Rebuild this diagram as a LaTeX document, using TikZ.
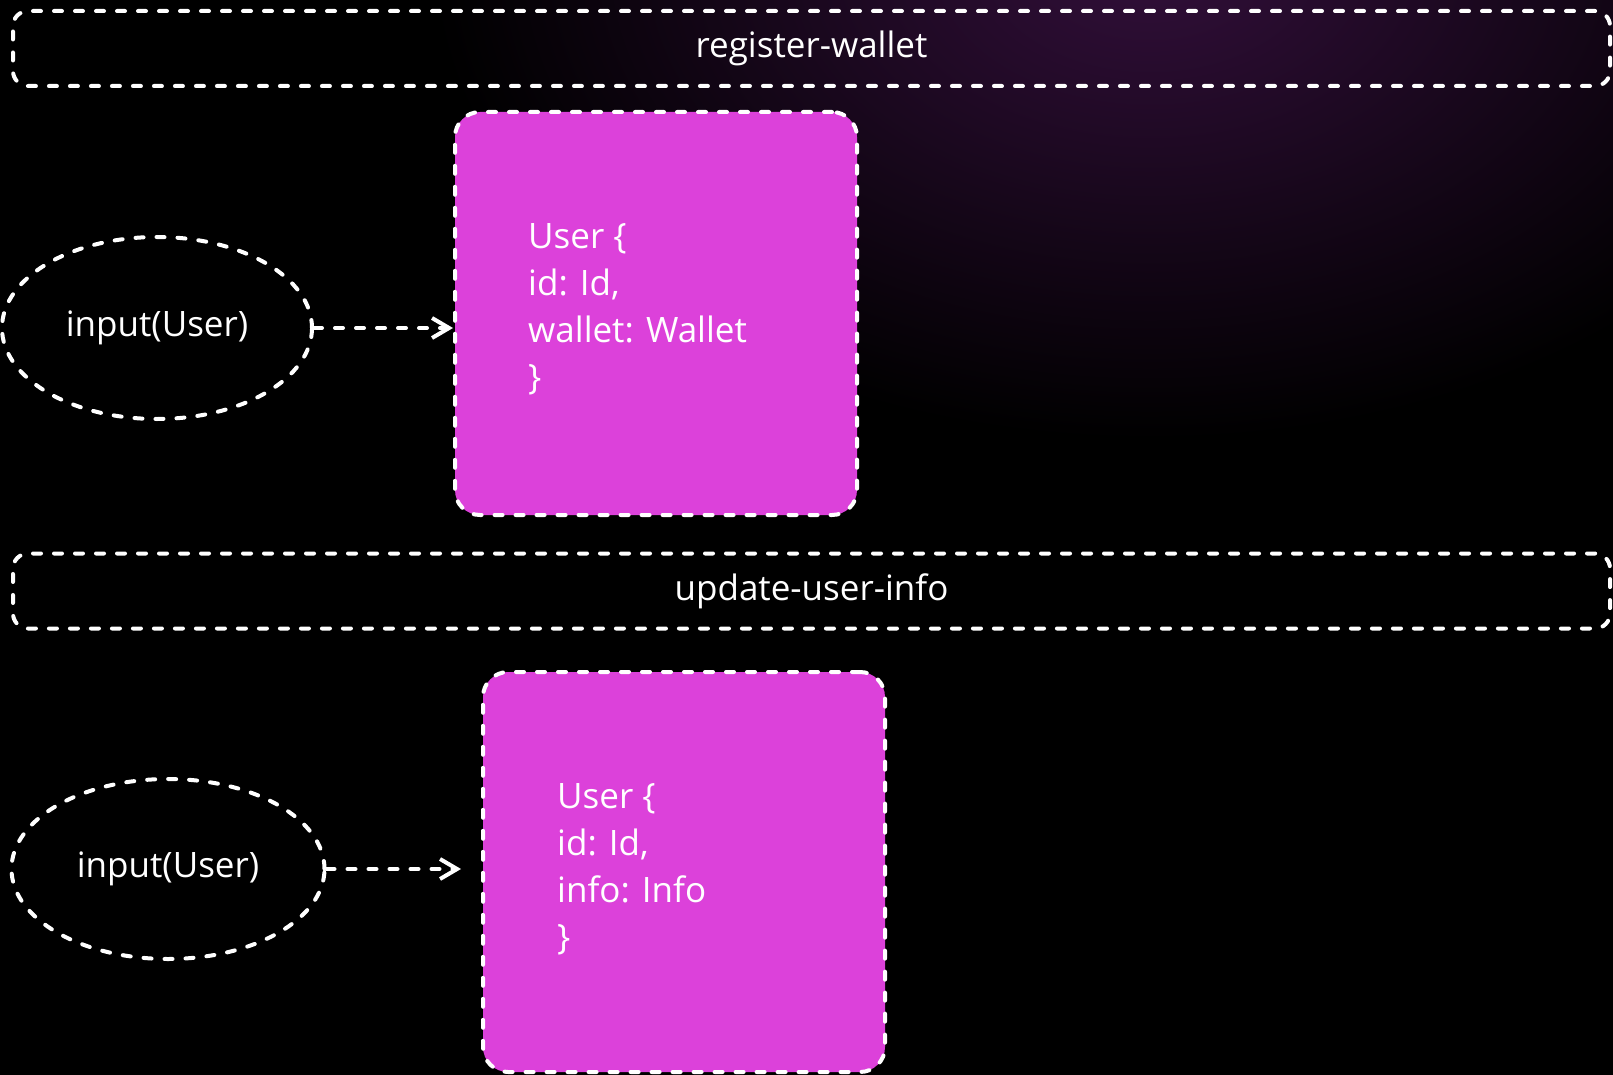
\documentclass[tikz,border=0pt]{standalone}
\usepackage{fontspec}
\setmainfont{Open Sans}
\usetikzlibrary{shapes.geometric,arrows.meta}
\definecolor{boxfill}{RGB}{220,65,218}
\definecolor{glow}{RGB}{50,15,58}
\tikzset{
  dashline/.style={draw=white, line width=4pt, line cap=round, dash pattern=on 8pt off 13pt},
  banner/.style={dashline, rounded corners=15pt, minimum width=1597pt, minimum height=75pt,
    inner sep=0pt, text=white, font=\fontsize{35}{42}\selectfont},
  typebox/.style={dashline, fill=boxfill, rounded corners=25pt, inner sep=0pt},
  inputnode/.style={dashline, ellipse, inner sep=0pt, text=white, font=\fontsize{35}{44}\selectfont},
  codetext/.style={anchor=base west, align=left, inner sep=0pt, text=white,
    font=\fontsize{35}{47}\selectfont},
  flow/.style={dashline, -{Straight Barb[length=17pt,width=20pt,line width=4pt]}},
}
\begin{document}
\begin{tikzpicture}[x=1pt,y=-1pt]
\useasboundingbox (0,0) rectangle (1613,1075);
\fill[black] (0,0) rectangle (1613,1075);
\begin{scope}
  \clip (0,0) rectangle (1613,1075);
  \shade[inner color=glow, outer color=black] (1150,-40) ellipse (720 and 480);
\end{scope}

% banners
\node[banner] (bn1) at (811.5,48.5) {register-wallet};
\node[banner] (bn2) at (811.5,591) {update-user-info};

% register-wallet section
\node[typebox, minimum width=402pt, minimum height=403pt] (b1) at (656,313.5) {};
\node[codetext] (t1) at (528,389) {User \{\\id: Id,\\wallet: Wallet\\\}};
\node[inputnode, minimum width=310pt, minimum height=182pt] (e1) at (157,328) {input(User)};
\draw[flow] (e1.east) -- (e1.east -| b1.west);

% update-user-info section
\node[typebox, minimum width=402pt, minimum height=400pt] (b2) at (684,872) {};
\node[codetext] (t2) at (557,949) {User \{\\id: Id,\\info: Info\\\}};
\node[inputnode, minimum width=313pt, minimum height=180pt] (e2) at (168,869) {input(User)};
\draw[flow, shorten >=20pt] (e2.east) -- (e2.east -| b2.west);
\end{tikzpicture}
\end{document}
